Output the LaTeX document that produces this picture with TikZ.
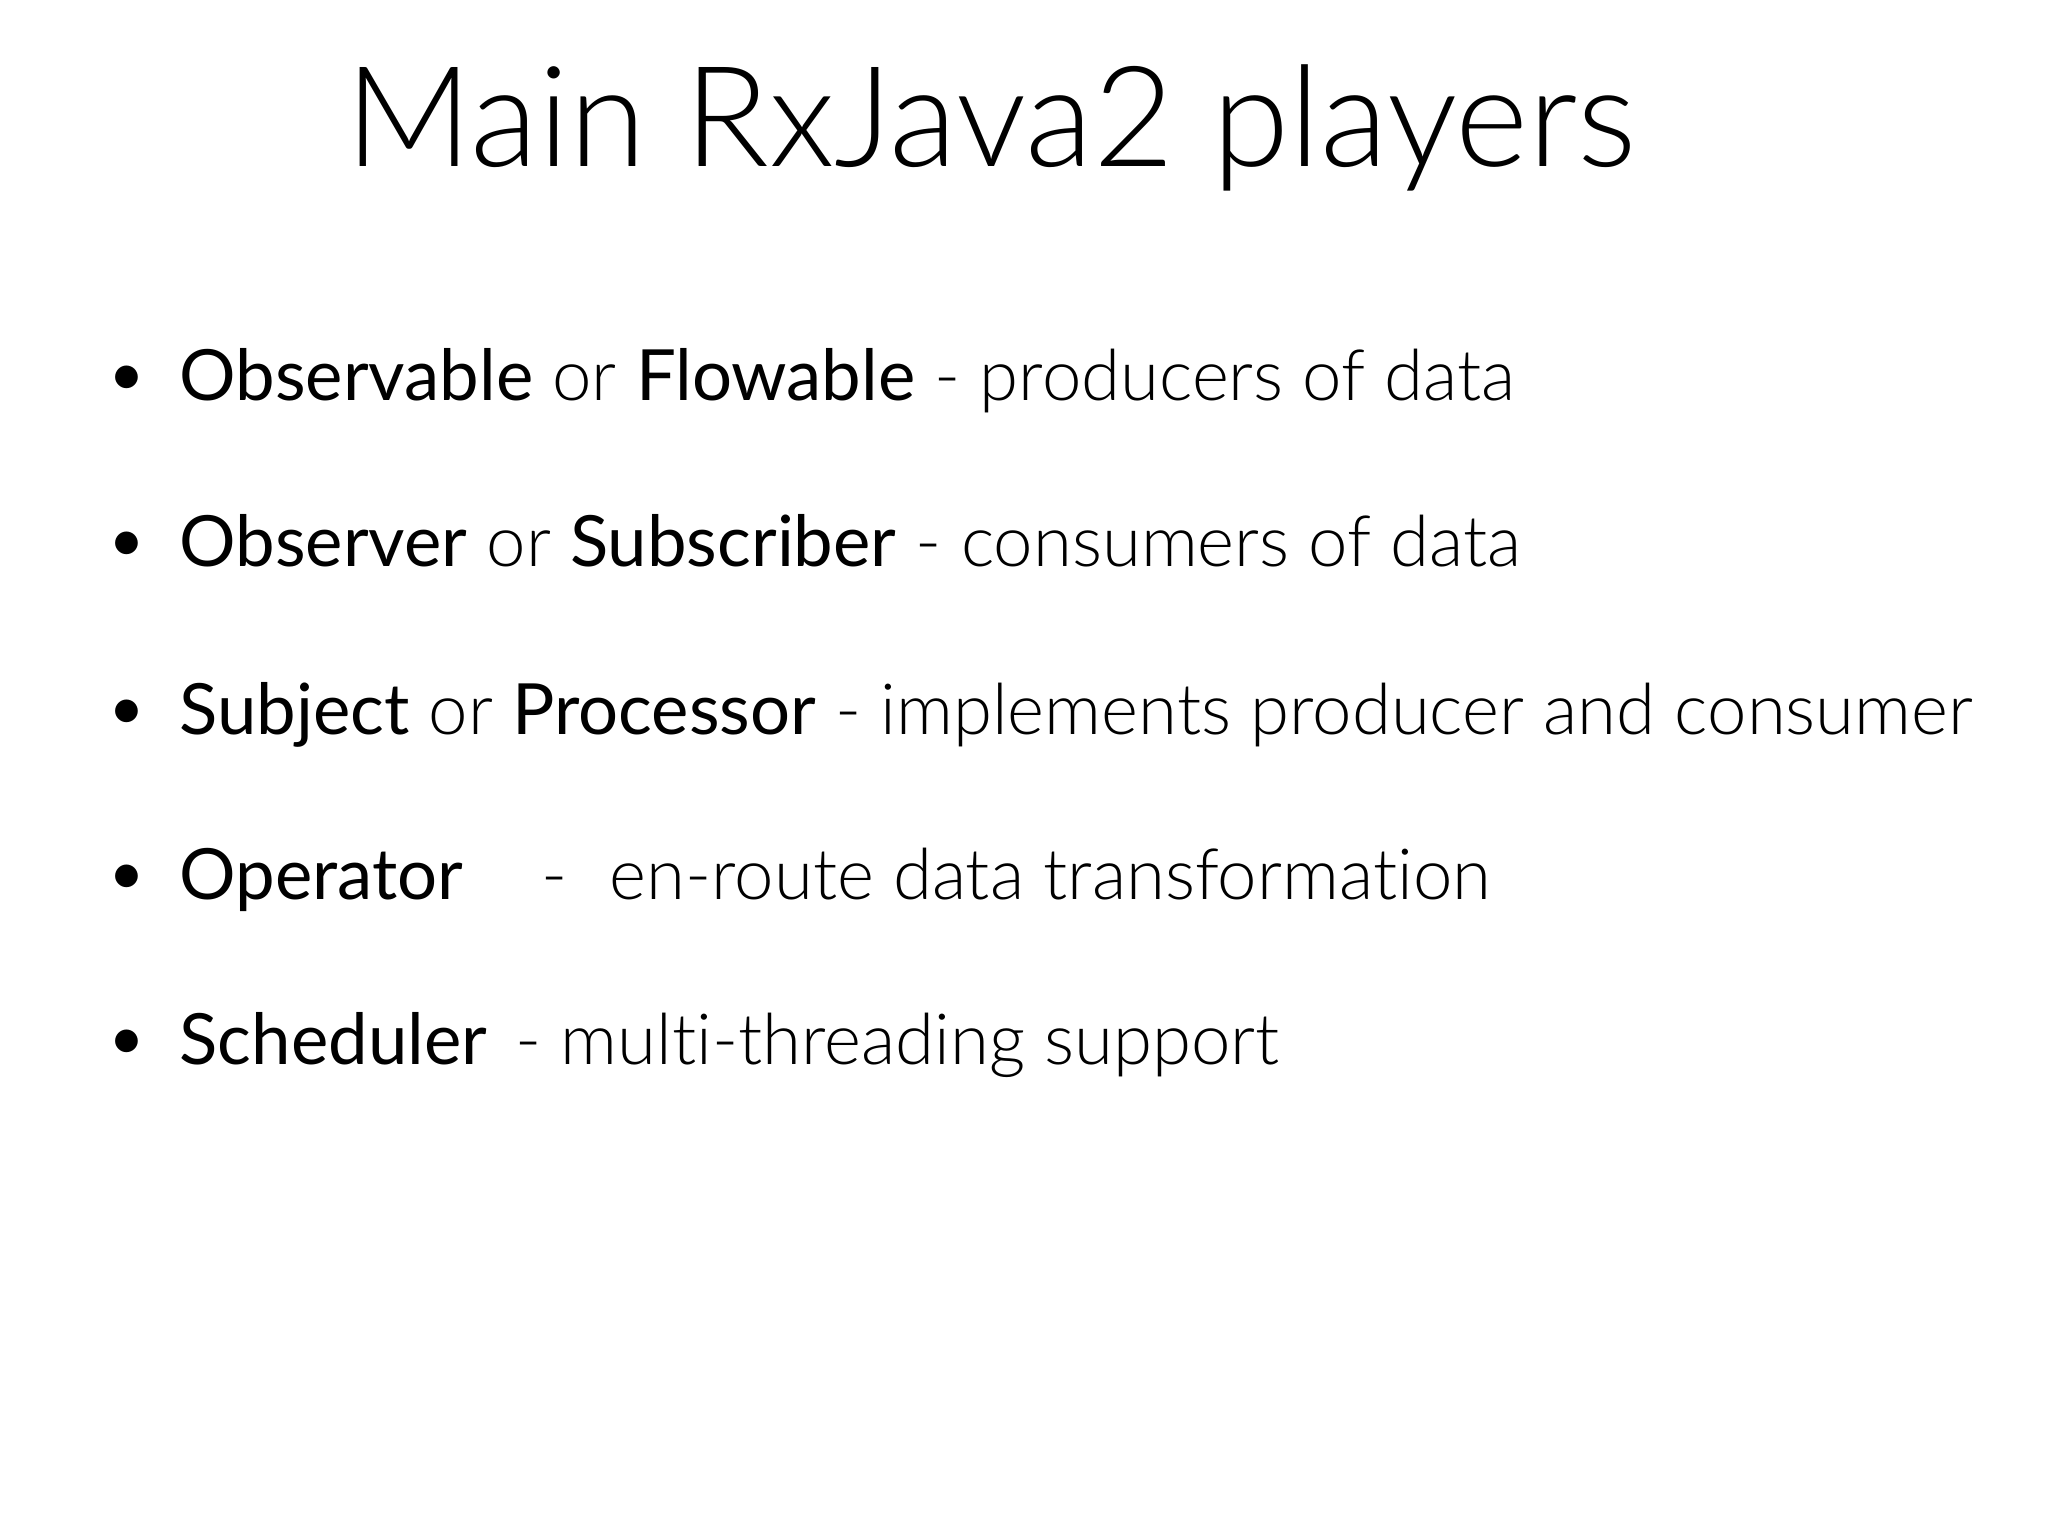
\documentclass[tikz,border=0pt]{standalone}
\usepackage{fontspec}
\setmainfont{Lato}[UprightFont=*-Light,BoldFont=*-Regular,RawFeature=-liga]
\begin{document}
\begin{tikzpicture}[x=0.01cm,y=-0.01cm,
  item/.style={anchor=base west,inner sep=0pt,font=\fontsize{20.1}{24}\selectfont},
  dot/.style={anchor=base,inner sep=0pt,font=\fontsize{22}{24}\selectfont}]
\useasboundingbox (0,0) rectangle (2048,1536);
\node[anchor=base,inner sep=0pt,font=\fontsize{39.8}{46}\selectfont] (title) at (991,166) {Main RxJava2 players};
\foreach \y/\n in {400/a,566/b,734/c,899/d,1064/e}{\node[dot] (b\n) at (127,\y) {•};}
\node[item] (la) at (179,400) {\textbf{Observable} or \textbf{Flowable} - producers of data};
\node[item] (lb) at (179,566) {\textbf{Observer} or \textbf{Subscriber} - consumers of data};
\node[item] (lc) at (179,734) {\textbf{Subject} or \textbf{Processor} - implements producer and consumer};
\node[item] (ld) at (179,899) {\textbf{Operator}\hspace{1.1em}-\hspace{0.6em}en-route data transformation};
\node[item] (le) at (179,1064) {\textbf{Scheduler}\hspace{0.4em}- multi-threading support};
\end{tikzpicture}
\end{document}
